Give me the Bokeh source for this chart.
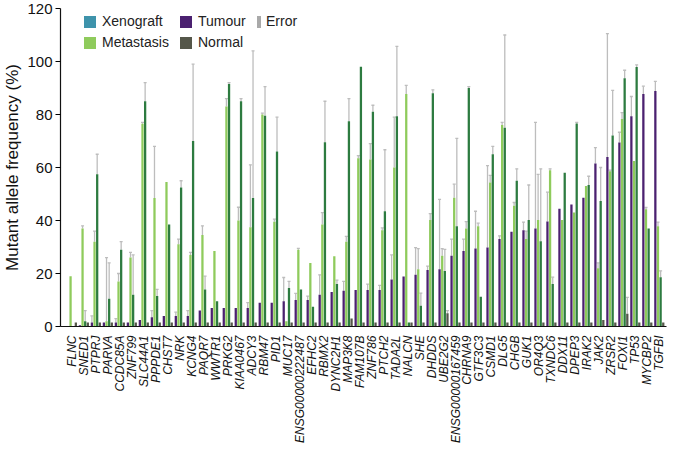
import numpy as np
from bokeh.plotting import figure
from bokeh.models import (ColumnDataSource, FixedTicker, Legend, LegendItem,
                          Range1d, Whisker, TeeHead)
from bokeh.embed import file_html
from bokeh.resources import INLINE

genes = ["FLNC", "SNED1", "PTPRJ", "PARVA", "CCDC85A", "ZNF799", "SLC44A1", "PPPDE1",
         "CHST7", "NRK", "KCNG4", "PAQR7", "WWTR1", "PRKG2", "KIAA0467", "ADCY3",
         "RBM47", "PID1", "MUC17", "ENSG00000222487", "EFHC2", "RBMX2", "DYNC2H1",
         "MAP3K8", "FAM107B", "ZNF786", "PTCH2", "TADA2L", "NALCN", "SHE", "DHDDS",
         "UBE2G2", "ENSG00000167459", "CHRNA9", "GTF3C3", "CSMD1", "DLG5", "CHGB",
         "GUK1", "OR4Q3", "TXNDC6", "DDX11", "DPEP3", "IRAK2", "JAK2", "ZRSR2",
         "FOXI1", "TP53", "MYCBP2", "TGFBI"]

tumour = [0, 0.5, 1.5, 1.5, 1.5, 1.5, 2.5, 3.5, 4, 4, 4, 6, 7, 7, 7, 7, 9, 9, 9.5, 10,
          10, 12, 13, 13.5, 13.8, 13.8, 13.8, 17.7, 18.9, 19.5, 21.3, 21.6, 26.7, 28.5,
          29.4, 29.8, 33, 35.8, 36.3, 37, 39.6, 44.4, 46, 48.6, 61.5, 64, 69.4, 79.3,
          87.7, 88.9]
tumour_err = [0, 0.5, 4, 1.5, 3, 1.5, 2.5, 6, 4, 5.4, 6, 6, 7, 7, 7, 9, 9, 9, 18.5,
              12.5, 11.5, 19.5, 13, 17, 13.8, 16, 15.5, 27, 18.9, 29.8, 22.8, 48, 33,
              33, 43.5, 60.7, 34.2, 35.8, 39.4, 77, 50.7, 44.4, 46, 48.6, 67.5, 110.5,
              73.3, 86.8, 90.7, 92.5]

metastasis = [19, 37, 32, 2, 17, 26, 76.5, 48.5, 54.5, 31, 27, 34.5, 28.5, 83, 40, 37.5,
              80, 39.5, 2, 29, 24, 38.5, 26.5, 32, 63.5, 63, 36.3, 60, 87.7, 21.6, 40.2,
              26.7, 48.6, 37, 37.8, 54.3, 76, 45.6, 33, 40.2, 59, 40.2, 43, 53, 22,
              58.6, 78.3, 62.5, 44.2, 37.8]
metastasis_err = [19, 38, 36, 26, 20, 28, 77, 68, 54.5, 33, 28, 38, 28.5, 86, 45, 61,
                  80.5, 40.5, 2, 29.5, 24, 43, 26.5, 34, 64.5, 69, 37.2, 79, 91, 29.4,
                  42.6, 29.4, 53.7, 39.6, 39, 57, 77, 46.8, 36, 57.4, 59.5, 40.2, 43, 53,
                  24, 59, 80.7, 62.5, 44.9, 39.4]

xenograft = [0, 2, 57.5, 10.5, 29, 12, 85, 11.5, 38.5, 52.5, 70, 14, 9.5, 91.5, 85,
             48.5, 79.5, 66, 14.5, 14, 7.5, 69.5, 16, 77.5, 98, 81, 43.5, 79.3, 1.5, 7.8,
             88, 20.9, 37.8, 90, 11.2, 65, 75, 55, 40.2, 32.2, 16, 58, 76.6, 53.4, 47.4,
             72.1, 93.7, 97.9, 37, 18.6]
xenograft_err = [0, 6, 65, 24, 32, 27, 92, 14, 38.5, 55, 99, 19, 9.5, 92, 86, 104, 90.5,
                 79, 17, 14, 7.5, 85, 17.5, 86, 98, 83.5, 66.7, 105.7, 1.5, 12.6, 89.3,
                 29.1, 71, 90.5, 11.2, 68, 110, 59.5, 53.4, 59.5, 18.6, 58, 77, 56.7, 60,
                 89.1, 96.7, 98.7, 37, 21]

normal = [1.5, 1.5, 1.5, 1.5, 1.5, 1.5, 1.5, 1.5, 1.5, 1.5, 1.5, 1.5, 1.5, 1.5, 1.5,
          1.5, 1.5, 1.5, 1.5, 1.5, 1.5, 1.5, 1.5, 3, 1.5, 1.5, 1.5, 1.5, 1.5, 1.5, 1.5,
          5, 1.5, 1.5, 1.5, 1.5, 1.5, 1.5, 1.5, 1.5, 1.5, 1.5, 1.5, 1.5, 2.5, 1.5, 4.8,
          1.5, 1.5, 1.5]
normal_err = [1.5, 1.5, 1.5, 1.5, 1.5, 1.5, 1.5, 1.5, 1.5, 1.5, 1.5, 1.5, 1.5, 1.5, 1.5,
              1.5, 1.5, 1.5, 1.5, 1.5, 1.5, 1.5, 1.5, 3, 1.5, 1.5, 1.5, 1.5, 1.5, 1.5,
              1.5, 6, 1.5, 1.5, 1.5, 1.5, 1.5, 1.5, 1.5, 1.5, 1.5, 1.5, 1.5, 1.5, 2.5,
              1.5, 11, 1.5, 1.5, 1.5]

TUM = "#4b2170"
MET = "#8fcb5c"
XEN = "#2d7b40"
NOR = "#55574a"
XEN_LEG = "#3e93ab"
ERR = "#bdbdbd"
FONT = "Liberation Sans"

FH = 318
p = figure(frame_width=606, frame_height=FH, output_backend="svg",
           toolbar_location=None, x_range=Range1d(-0.95, 49.6),
           y_range=Range1d(0, 120), min_border_top=8, min_border_right=4,
           min_border_left=0, min_border_bottom=0)
p.outline_line_color = None
p.grid.grid_line_color = None

series = [
    (tumour, tumour_err, TUM, -0.33),
    (metastasis, metastasis_err, MET, -0.11),
    (xenograft, xenograft_err, XEN, 0.11),
    (normal, normal_err, NOR, 0.33),
]
idx = np.arange(len(genes))
renderers = []
for vals, errs, color, off in series:
    src = ColumnDataSource(dict(x=idx + off, top=vals))
    r = p.vbar(x="x", top="top", width=0.19, source=src, fill_color=color,
               line_color=None)
    renderers.append(r)
    xs, lo, hi = [], [], []
    for i, (v, e) in enumerate(zip(vals, errs)):
        if e > v + 0.3:
            xs.append(i + off)
            lo.append(v)
            hi.append(e)
    esrc = ColumnDataSource(dict(x=xs, lo=lo, hi=hi))
    p.add_layout(Whisker(source=esrc, base="x", lower="lo", upper="hi",
                         line_color=ERR, line_width=1.3, lower_head=None,
                         upper_head=TeeHead(size=3, line_color=ERR, line_width=1.3)))

r_tum, r_met, r_xen, r_nor = renderers
# zero-height bars that only serve as legend swatches
dummy = ColumnDataSource(dict(x=idx[:1], top=[0]))
leg_xen = p.vbar(x="x", top="top", width=0.01, source=dummy, fill_color=XEN_LEG,
                 line_color=None)
leg_err = p.vbar(x="x", top="top", width=0.01, source=dummy, fill_color="#a9a9a9",
                 line_color=None)

# axes
p.xaxis.ticker = FixedTicker(ticks=list(range(len(genes))))
p.xaxis.major_label_overrides = {i: g for i, g in enumerate(genes)}
p.xaxis.major_label_orientation = np.pi / 2
p.xaxis.major_label_text_font = FONT
p.xaxis.major_label_text_font_size = "12px"
p.xaxis.major_label_text_font_style = "italic"
p.xaxis.major_label_text_color = "#111111"
p.xaxis.major_tick_line_color = None
p.xaxis.minor_tick_line_color = None
p.xaxis.major_label_standoff = 3
p.xaxis.axis_line_color = "#111111"
p.xaxis.axis_line_width = 1.2

p.yaxis.ticker = FixedTicker(ticks=[0, 20, 40, 60, 80, 100, 120])
p.yaxis.axis_label = "Mutant allele frequency (%)"
p.yaxis.axis_label_text_font = FONT
p.yaxis.axis_label_text_font_size = "17px"
p.yaxis.axis_label_text_font_style = "normal"
p.yaxis.axis_label_text_color = "#111111"
p.yaxis.axis_label_standoff = 2
p.yaxis.major_label_text_font = FONT
p.yaxis.major_label_text_font_size = "15px"
p.yaxis.major_label_text_color = "#111111"
p.yaxis.major_tick_out = 5
p.yaxis.major_tick_in = 0
p.yaxis.minor_tick_line_color = None
p.yaxis.axis_line_color = "#111111"
p.yaxis.axis_line_width = 1.2
p.yaxis.major_label_standoff = 3


def make_legend(items, loc, label_width=75, glyph_width=15):
    lg = Legend(items=items, location=loc, orientation="horizontal",
                glyph_width=glyph_width, glyph_height=15, label_standoff=5,
                label_width=label_width, label_height=15, spacing=1, padding=0,
                margin=0, border_line_color=None, background_fill_alpha=0,
                label_text_font=FONT, label_text_font_size="14px",
                label_text_color="#222222")
    p.add_layout(lg, "center")
    return lg

LH = 17
make_legend([LegendItem(label="Xenograft", renderers=[leg_xen]),
             LegendItem(label="Tumour", renderers=[r_tum])], (22, FH - 4 - LH))
make_legend([LegendItem(label="Metastasis", renderers=[r_met]),
             LegendItem(label="Normal", renderers=[r_nor])], (22, FH - 25 - LH))
make_legend([LegendItem(label="Error", renderers=[leg_err])], (196, FH - 4 - LH),
            label_width=30, glyph_width=5)

open("out.html", "w").write(file_html(p, INLINE))
